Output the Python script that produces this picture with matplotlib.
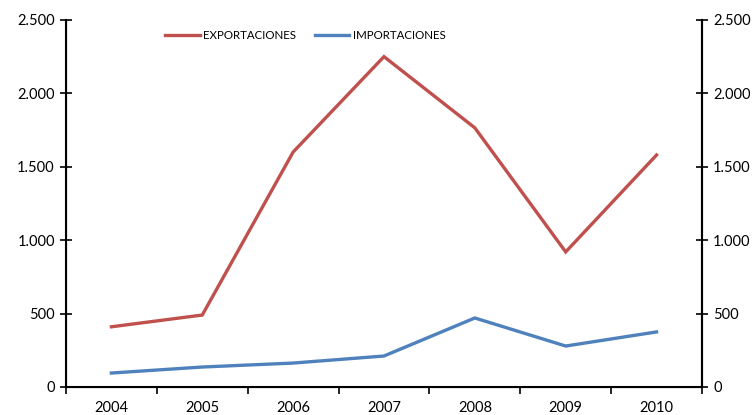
import matplotlib.pyplot as plt
import numpy as np
from matplotlib.ticker import FuncFormatter, FixedLocator

years = ["2004", "2005", "2006", "2007", "2008", "2009", "2010"]
exportaciones = [410, 490, 1600, 2250, 1765, 920, 1580]
importaciones = [95, 136, 163, 211, 470, 279, 375]

plt.rcParams['font.family'] = ['Lato', 'DejaVu Sans']

RED = '#C0504D'
BLUE = '#4F81BD'


def miles(v, pos):
    return "{:,.0f}".format(v).replace(",", ".")


fig = plt.figure(figsize=(7.54, 4.15), dpi=100)
ax = fig.add_axes([0.0875, 0.0675, 0.8435, 0.8845])

x = np.arange(len(years))
ax.plot(x, exportaciones, color=RED, lw=2.4, label="EXPORTACIONES", solid_joinstyle='miter')
ax.plot(x, importaciones, color=BLUE, lw=2.4, label="IMPORTACIONES", solid_joinstyle='miter')

ax.set_xlim(-0.5, len(years) - 0.5)
ax.set_ylim(0, 2500)
ax.set_yticks(np.arange(0, 2501, 500))
ax.yaxis.set_major_formatter(FuncFormatter(miles))

ax.set_xticks(x)
ax.set_xticklabels(years)
ax.tick_params(axis='x', which='major', length=0, pad=10, labelsize=10.5)
ax.xaxis.set_minor_locator(FixedLocator(np.arange(-0.5, len(years), 1.0)))
ax.tick_params(axis='x', which='minor', length=5, width=1.2, direction='out')
ax.tick_params(axis='y', length=8, width=1.2, direction='inout', labelsize=10.5, pad=4)

for s in ['left', 'right', 'bottom']:
    ax.spines[s].set_linewidth(1.5)
ax.spines['top'].set_visible(False)

ax2 = ax.twinx()
ax2.set_ylim(0, 2500)
ax2.set_yticks(np.arange(0, 2501, 500))
ax2.yaxis.set_major_formatter(FuncFormatter(miles))
ax2.tick_params(axis='y', length=8, width=1.2, direction='inout', labelsize=10.5, pad=4)
ax2.spines['top'].set_visible(False)
ax2.spines['right'].set_linewidth(1.5)

ax.legend(loc='upper left', bbox_to_anchor=(0.14, 1.0), ncol=2, frameon=False,
          fontsize=8.3, handlelength=3.0, handletextpad=0.3, columnspacing=1.6)

fig.savefig("out.png", dpi=100)
